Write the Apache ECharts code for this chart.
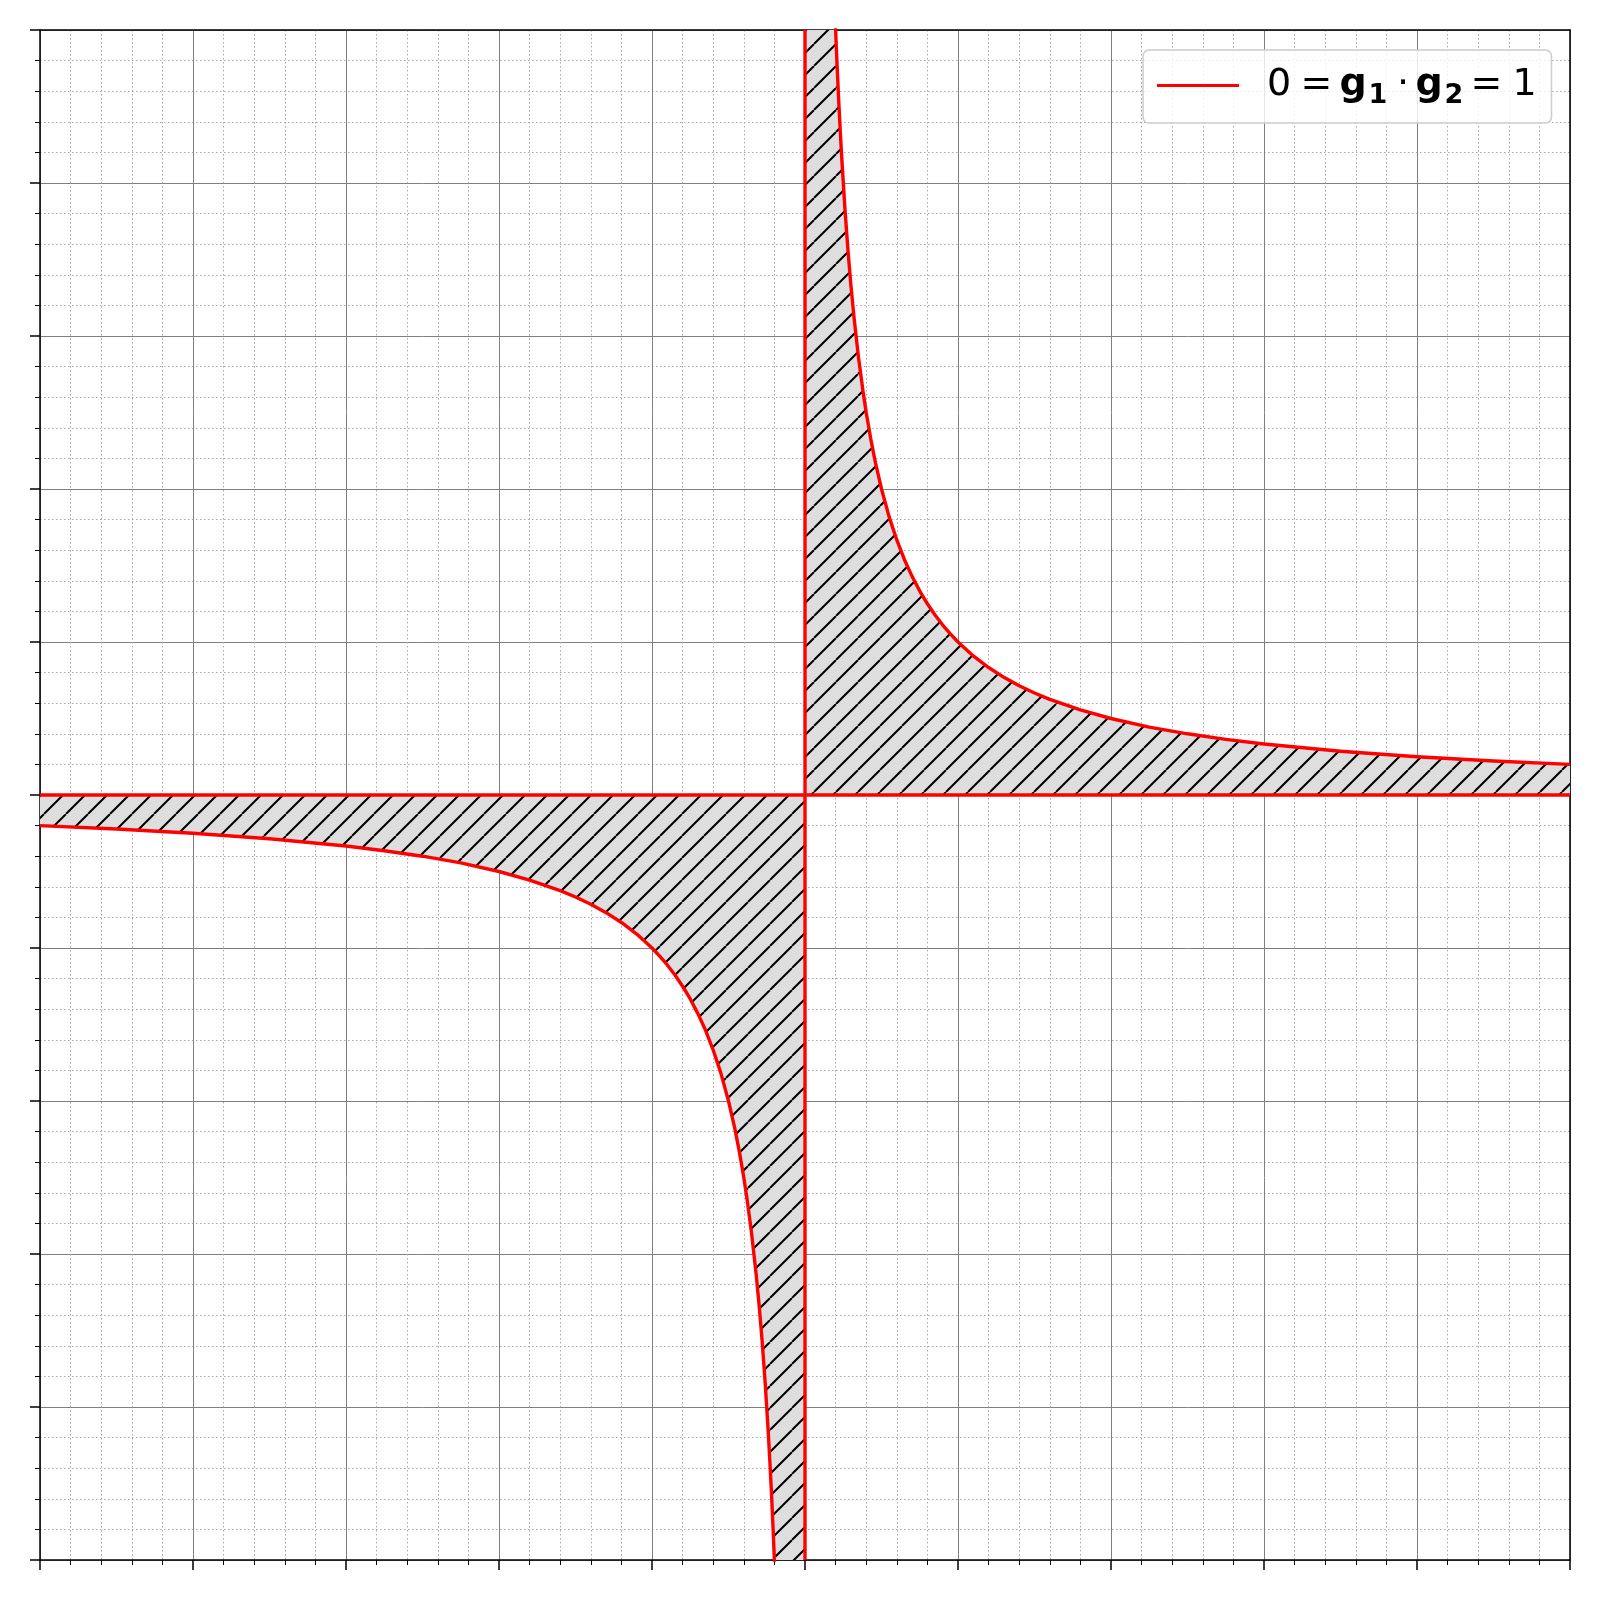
<!DOCTYPE html>
<html><head><meta charset="utf-8">
<script src="https://cdn.jsdelivr.net/npm/echarts@6/dist/echarts.min.js"></script>
<style>html,body{margin:0;padding:0;background:#fff}#c{width:1600px;height:1600px}</style>
</head><body><div id="c"></div>
<script>
// Axis ranges and steps (no tick labels are shown in the reference)
const xRange = [-5, 5];
const yRange = [-5, 5];
const majorStep = 1;
const minorSplits = 5;

// Upper (first-quadrant) branch of the red curve
const upperX = [0.19, 0.2, 0.21, 0.22, 0.23, 0.24, 0.26, 0.28, 0.3, 0.32, 0.35, 0.38, 0.4, 0.43, 0.46, 0.5, 0.55, 0.6, 0.65, 0.7, 0.75, 0.8, 0.85, 0.9, 0.95, 1, 1.1, 1.2, 1.3, 1.4, 1.5, 1.6, 1.8, 2, 2.25, 2.5, 2.75, 3, 3.5, 4, 4.5, 5];
const upperY = [5.263, 5, 4.762, 4.545, 4.348, 4.167, 3.846, 3.571, 3.333, 3.125, 2.857, 2.632, 2.5, 2.326, 2.174, 2, 1.818, 1.667, 1.538, 1.429, 1.333, 1.25, 1.176, 1.111, 1.053, 1, 0.909, 0.833, 0.769, 0.714, 0.667, 0.625, 0.556, 0.5, 0.444, 0.4, 0.364, 0.333, 0.286, 0.25, 0.222, 0.2];

// Lower (third-quadrant) branch of the red curve
const lowerX = [-5, -4.5, -4, -3.5, -3, -2.75, -2.5, -2.25, -2, -1.8, -1.6, -1.5, -1.4, -1.3, -1.2, -1.1, -1, -0.95, -0.9, -0.85, -0.8, -0.75, -0.7, -0.65, -0.6, -0.55, -0.5, -0.46, -0.43, -0.4, -0.38, -0.35, -0.32, -0.3, -0.28, -0.26, -0.24, -0.23, -0.22, -0.21, -0.2, -0.19];
const lowerY = [-0.2, -0.222, -0.25, -0.286, -0.333, -0.364, -0.4, -0.444, -0.5, -0.556, -0.625, -0.667, -0.714, -0.769, -0.833, -0.909, -1, -1.053, -1.111, -1.176, -1.25, -1.333, -1.429, -1.538, -1.667, -1.818, -2, -2.174, -2.326, -2.5, -2.632, -2.857, -3.125, -3.333, -3.571, -3.846, -4.167, -4.348, -4.545, -4.762, -5, -5.263];

// Red axis lines g1 = 0 and g2 = 0
const hLineX = [-5, 5];
const hLineY = [0, 0];
const vLineX = [0, 0];
const vLineY = [-5, 5];

const legendName = 'curve';

function makeHatch() {
  const S = 22;
  const c = document.createElement('canvas');
  c.width = S; c.height = S;
  const ctx = c.getContext('2d');
  ctx.fillStyle = '#dedede';
  ctx.fillRect(0, 0, S, S);
  ctx.strokeStyle = '#000';
  ctx.lineWidth = 2;
  ctx.beginPath();
  for (const o of [-S, 0, S]) { ctx.moveTo(o, S); ctx.lineTo(o + S, 0); }
  ctx.stroke();
  return c;
}
const hatch = { image: makeHatch(), repeat: 'repeat' };

const pairs = (xs, ys) => xs.map((x, i) => [x, ys[i]]);
const upperFill = [[0, upperY[0]]].concat(pairs(upperX, upperY));
const lowerFill = pairs(lowerX, lowerY).concat([[0, lowerY[lowerY.length - 1]]]);

const frame = { show: true, onZero: false, lineStyle: { color: '#000', width: 1.5 } };
function mainAxis(range, pos) {
  return {
    type: 'value', min: range[0], max: range[1], interval: majorStep, position: pos,
    axisLine: frame,
    axisTick: { show: true, inside: false, length: 10, lineStyle: { color: '#000', width: 1.5 } },
    minorTick: { show: true, splitNumber: minorSplits, length: 5, lineStyle: { color: '#000', width: 1 } },
    axisLabel: { show: false },
    splitLine: { show: true, lineStyle: { color: '#808080', width: 1 } },
    minorSplitLine: { show: true, lineStyle: { color: '#a8a8a8', width: 1, type: [1.5, 2.5] } }
  };
}
function frameAxis(range, pos) {
  return {
    type: 'value', min: range[0], max: range[1], position: pos,
    axisLine: frame, axisTick: { show: false }, axisLabel: { show: false },
    splitLine: { show: false }
  };
}

const F = 'DejaVu Sans';
const rich = {
  sp: { width: 23, fontSize: 38, lineHeight: 40, fontFamily: F },
  n0: { width: 33.5, fontSize: 38, lineHeight: 40, fontFamily: F, color: '#000' },
  e1: { width: 39, fontSize: 38, lineHeight: 40, fontFamily: F, color: '#000' },
  g1: { width: 29, fontSize: 38, lineHeight: 40, fontFamily: F, fontWeight: 'bold', color: '#000' },
  s1: { width: 28.5, fontSize: 27, lineHeight: 40, fontFamily: F, fontWeight: 'bold', color: '#000', padding: [20, 0, 0, 0] },
  dt: { width: 18.5, fontSize: 38, lineHeight: 40, fontFamily: F, color: '#000' },
  g2: { width: 29, fontSize: 38, lineHeight: 40, fontFamily: F, fontWeight: 'bold', color: '#000' },
  s2: { width: 26, fontSize: 27, lineHeight: 40, fontFamily: F, fontWeight: 'bold', color: '#000', padding: [20, 0, 0, 0] },
  e2: { width: 42, fontSize: 38, lineHeight: 40, fontFamily: F, color: '#000' },
  o1: { width: 25, fontSize: 38, lineHeight: 40, fontFamily: F, color: '#000' }
};

const chart = echarts.init(document.getElementById('c'), null, { renderer: 'canvas' });
chart.setOption({
  animation: false,
  backgroundColor: '#fff',
  grid: { left: 40, right: 30, top: 30, bottom: 40, containLabel: false },
  xAxis: [mainAxis(xRange, 'bottom'), frameAxis(xRange, 'top')],
  yAxis: [mainAxis(yRange, 'left'), frameAxis(yRange, 'right')],
  legend: {
    show: true, data: [legendName], left: 1143, top: 50, orient: 'horizontal',
    icon: 'rect', itemWidth: 82, itemHeight: 3, selectedMode: false,
    padding: [12, 14, 14, 14],
    backgroundColor: 'rgba(255,255,255,0.8)', borderColor: '#cccccc', borderWidth: 1.5, borderRadius: 6,
    formatter: () => '{sp| }{n0|0}{e1|=}{g1|g}{s1|1}{dt|·}{g2|g}{s2|2}{e2|=}{o1|1}',
    textStyle: { fontFamily: F, fontSize: 38, lineHeight: 40, color: '#000', rich: rich }
  },
  series: [
    { type: 'line', name: 'fillU', data: upperFill, showSymbol: false, symbol: 'none', silent: true, z: 2,
      lineStyle: { width: 0, opacity: 0 }, areaStyle: { color: hatch, opacity: 1, origin: 0 } },
    { type: 'line', name: 'fillL', data: lowerFill, showSymbol: false, symbol: 'none', silent: true, z: 2,
      lineStyle: { width: 0, opacity: 0 }, areaStyle: { color: hatch, opacity: 1, origin: 0 } },
    { type: 'line', name: 'hline', data: pairs(hLineX, hLineY), showSymbol: false, symbol: 'none', z: 4,
      lineStyle: { color: '#ff0000', width: 3.4 } },
    { type: 'line', name: 'vline', data: pairs(vLineX, vLineY), showSymbol: false, symbol: 'none', z: 4,
      lineStyle: { color: '#ff0000', width: 3.4 } },
    { type: 'line', name: legendName, data: pairs(upperX, upperY), showSymbol: false, symbol: 'none', z: 5,
      smooth: false, itemStyle: { color: '#ff0000' },
      lineStyle: { color: '#ff0000', width: 3.4, join: 'round' } },
    { type: 'line', name: legendName, data: pairs(lowerX, lowerY), showSymbol: false, symbol: 'none', z: 5,
      smooth: false, itemStyle: { color: '#ff0000' },
      lineStyle: { color: '#ff0000', width: 3.4, join: 'round' } }
  ]
});
</script></body></html>
